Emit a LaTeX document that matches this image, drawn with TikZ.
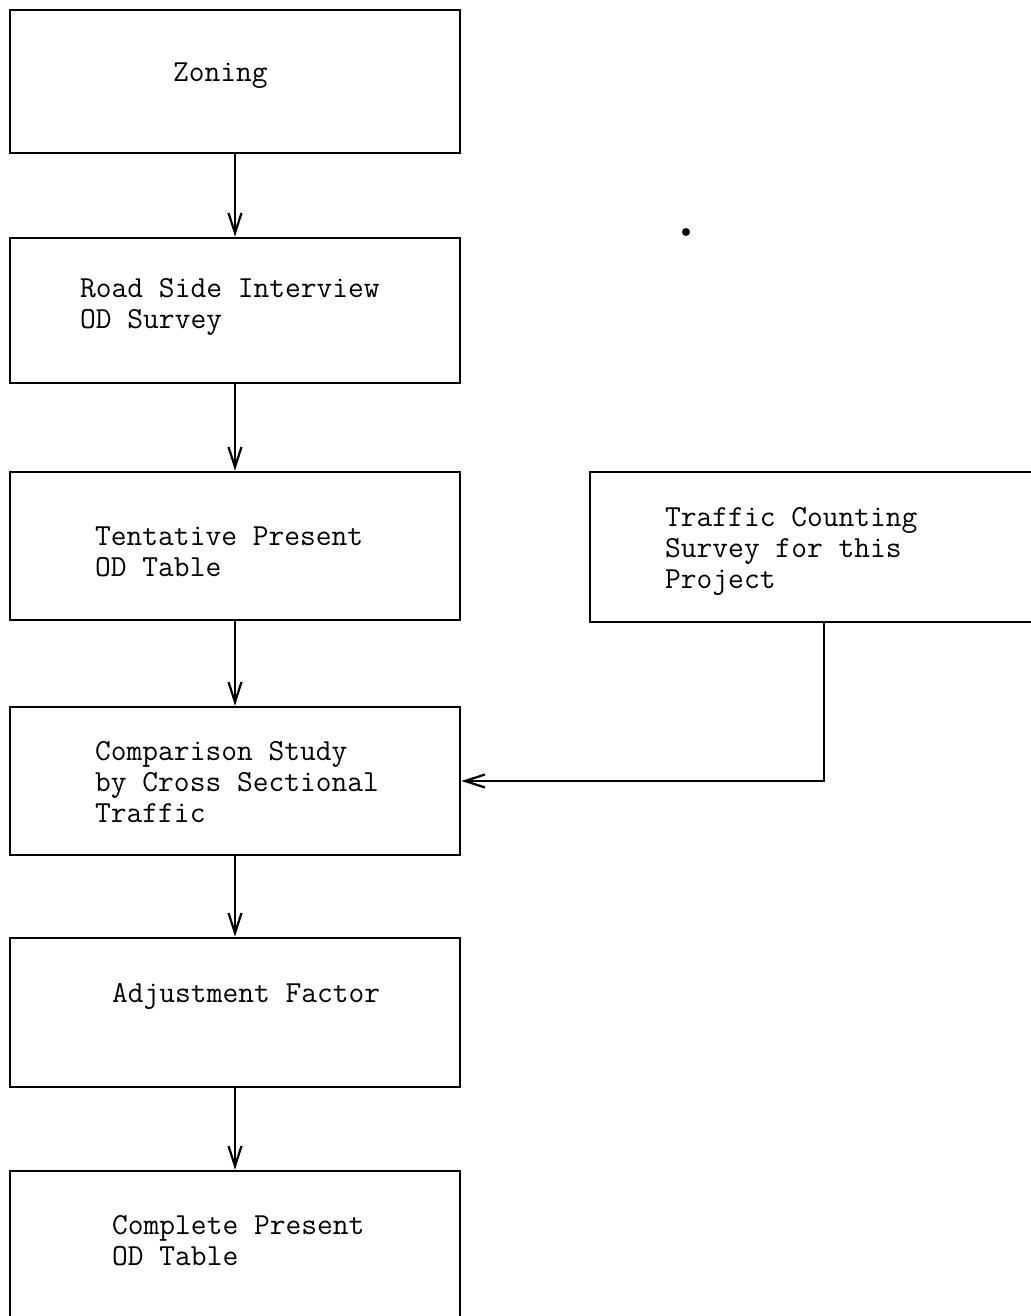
\documentclass[tikz,border=0pt]{standalone}
\usetikzlibrary{arrows.meta}
\tikzstyle{stepbox} = [draw, line width=2.8pt, inner sep=0pt, minimum width=450pt]
\tikzset{boxtext/.style={anchor=west, align=left, inner sep=0pt, font=\fontsize{30.6}{31}\selectfont\ttfamily},
    flow/.style={line width=2.2pt, -{Straight Barb[length=20pt,width=13pt,line width=2.2pt]}}}

\begin{document}
\begin{tikzpicture}[x=1pt,y=-1pt]
    \useasboundingbox (0,0) rectangle (1030,1316);
    % Boxes of the left column
    \node[stepbox, minimum height=143pt] (zoning) at (235,81.5) {};
    \node[stepbox, minimum height=145pt] (interview) at (235,310.5) {};
    \node[stepbox, minimum height=148pt] (tentative) at (235,546) {};
    \node[stepbox, minimum height=148pt] (compare) at (235,781) {};
    \node[stepbox, minimum height=149pt] (adjust) at (235,1012.5) {};
    \node[stepbox, minimum height=159pt] (complete) at (235,1250.5) {};
    % Box on the right
    \node[stepbox, minimum width=468pt, minimum height=150pt] (counting) at (824,547) {};
    %
    \node[boxtext] (zoningtext) at (173,76) {Zoning};
    \node[boxtext] (interviewtext) at (80,306.5) {Road Side Interview\\OD Survey};
    \node[boxtext] (tentativetext) at (95,552) {Tentative Present\\OD Table};
    \node[boxtext] (countingtext) at (665,551) {Traffic Counting\\Survey for this\\Project};
    \node[boxtext] (comparetext) at (95,782.5) {Comparison Study\\by Cross Sectional\\Traffic};
    \node[boxtext] (adjusttext) at (112,996.5) {Adjustment Factor};
    \node[boxtext] (completetext) at (112,1241) {Complete Present\\OD Table};
    %
    \foreach \a/\b in {zoning/interview, interview/tentative, tentative/compare, compare/adjust, adjust/complete}
        \draw[flow] (\a) -- (\b);
    \draw[flow] (counting.south) |- (compare.east);
    \fill (686,232) circle (4pt);
\end{tikzpicture}
\end{document}
